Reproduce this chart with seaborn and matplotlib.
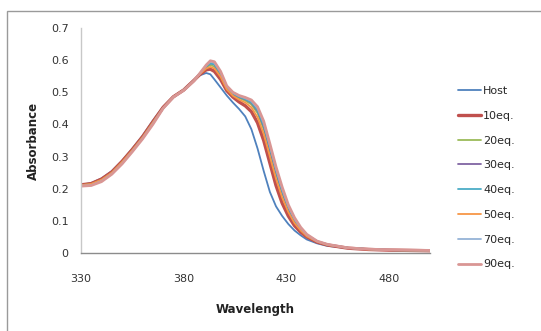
import matplotlib
matplotlib.use("Agg")
import matplotlib.pyplot as plt
import seaborn as sns
import pandas as pd
from matplotlib.patches import Rectangle

wavelength = [330, 335, 340, 345, 350, 355, 360, 365, 370, 375, 380, 385, 388, 391, 393, 395,
              398, 401, 404, 407, 410, 413, 416, 419, 422, 425, 428, 431, 434, 437, 440, 445,
              450, 460, 470, 480, 490, 500]

host = [.212, .218, .232, .255, .287, .325, .365, .412, .455, .487, .508, .538, .553, .560, .556, .540,
        .515, .490, .468, .448, .425, .385, .325, .255, .190, .145, .115, .090, .070, .055, .042, .030,
        .022, .015, .011, .009, .008, .007]
eq10 = [.212, .216, .230, .252, .285, .322, .362, .408, .453, .486, .507, .537, .556, .570, .572, .565,
        .540, .505, .485, .470, .458, .440, .405, .350, .280, .210, .155, .115, .085, .065, .050, .034,
        .025, .015, .011, .009, .008, .007]
eq20 = [.211, .214, .227, .249, .282, .319, .359, .405, .451, .485, .507, .536, .558, .578, .585, .580,
        .553, .512, .492, .482, .474, .462, .435, .385, .315, .245, .185, .135, .098, .073, .054, .036,
        .026, .016, .012, .009, .008, .007]
eq30 = [.210, .213, .226, .248, .281, .318, .358, .404, .451, .485, .507, .536, .559, .581, .590, .586,
        .558, .515, .495, .485, .478, .467, .442, .393, .323, .252, .190, .139, .101, .075, .055, .036,
        .026, .016, .012, .009, .008, .007]
eq40 = [.210, .213, .226, .248, .280, .318, .358, .404, .451, .485, .507, .536, .559, .581, .590, .587,
        .559, .516, .496, .486, .479, .469, .445, .397, .327, .256, .193, .141, .103, .076, .056, .037,
        .026, .016, .012, .009, .008, .007]
eq50 = [.211, .215, .228, .250, .283, .320, .360, .406, .452, .486, .507, .536, .557, .574, .579, .574,
        .548, .509, .489, .477, .468, .453, .422, .370, .300, .230, .172, .127, .093, .070, .052, .035,
        .025, .016, .011, .009, .008, .007]
eq70 = [.209, .211, .224, .246, .278, .316, .356, .402, .450, .485, .506, .535, .560, .584, .595, .592,
        .563, .519, .499, .489, .482, .473, .451, .405, .335, .263, .200, .146, .107, .078, .057, .037,
        .027, .016, .012, .010, .009, .008]
eq90 = [.208, .210, .222, .245, .277, .315, .355, .400, .450, .485, .506, .535, .560, .585, .598, .595,
        .565, .520, .500, .490, .484, .476, .455, .410, .340, .268, .205, .150, .110, .080, .058, .037,
        .027, .016, .012, .010, .009, .008]

series_names = ["Host", "10eq.", "20eq.", "30eq.", "40eq.", "50eq.", "70eq.", "90eq."]
series_values = [host, eq10, eq20, eq30, eq40, eq50, eq70, eq90]
colors = ["#4F81BD", "#C0504D", "#9BBB59", "#8064A2", "#4BACC6", "#F79646", "#95B3D7", "#D99694"]
widths = [1.3, 2.4, 1.3, 1.3, 1.3, 1.3, 1.3, 2.0]

x_ticks = [330, 380, 430, 480]
y_ticks = [0, 0.1, 0.2, 0.3, 0.4, 0.5, 0.6, 0.7]
y_tick_labels = ["0", "0.1", "0.2", "0.3", "0.4", "0.5", "0.6", "0.7"]

rows = []
for name, vals in zip(series_names, series_values):
    for w, v in zip(wavelength, vals):
        rows.append({"Wavelength": w, "Absorbance": v, "Series": name})
df = pd.DataFrame(rows)

sns.set_theme(style="white")
plt.rcParams["font.family"] = ["DejaVu Sans"]

fig = plt.figure(figsize=(5.41, 3.31), dpi=100)
fig.patch.set_facecolor("white")
ax = fig.add_axes([81 / 541, 78 / 331, (430 - 81) / 541, (303 - 78) / 331])

handles = []
for name, col, lw in zip(series_names, colors, widths):
    sub = df[df["Series"] == name]
    sns.lineplot(data=sub, x="Wavelength", y="Absorbance", color=col, linewidth=lw, ax=ax,
                 label=name, legend=False)
    handles.append(ax.lines[-1])

ax.set_xlim(330, 500)
ax.set_ylim(0, 0.7)
ax.set_xticks(x_ticks)
ax.set_xticklabels([str(t) for t in x_ticks])
ax.set_yticks(y_ticks)
ax.set_yticklabels(y_tick_labels)
ax.tick_params(axis="both", length=0, labelsize=8, colors="#333333")
ax.tick_params(axis="x", pad=15)
ax.tick_params(axis="y", pad=9)
ax.set_xlabel("Wavelength", fontsize=8.5, fontweight="bold", labelpad=14, color="#222222")
ax.set_ylabel("Absorbance", fontsize=8.5, fontweight="bold", labelpad=8, color="#222222")
ax.grid(False)
for s in ["top", "right"]:
    ax.spines[s].set_visible(False)
ax.spines["left"].set_color("#C8C8C8")
ax.spines["left"].set_linewidth(1.0)
ax.spines["bottom"].set_color("#8C8C8C")
ax.spines["bottom"].set_linewidth(1.0)

fig.legend(handles=handles, labels=series_names, loc="upper left",
           bbox_to_anchor=(458 / 541, 1 - 86 / 331), frameon=False, fontsize=8,
           handlelength=2.1, handletextpad=0.15, labelspacing=1.33, borderpad=0,
           borderaxespad=0)

fig.patches.append(Rectangle((7 / 541, -0.05), 1.0, 1 - 11 / 331 + 0.05, transform=fig.transFigure,
                             fill=False, edgecolor="#9A9A9A", linewidth=1.0))

fig.savefig("out.png", dpi=100)
